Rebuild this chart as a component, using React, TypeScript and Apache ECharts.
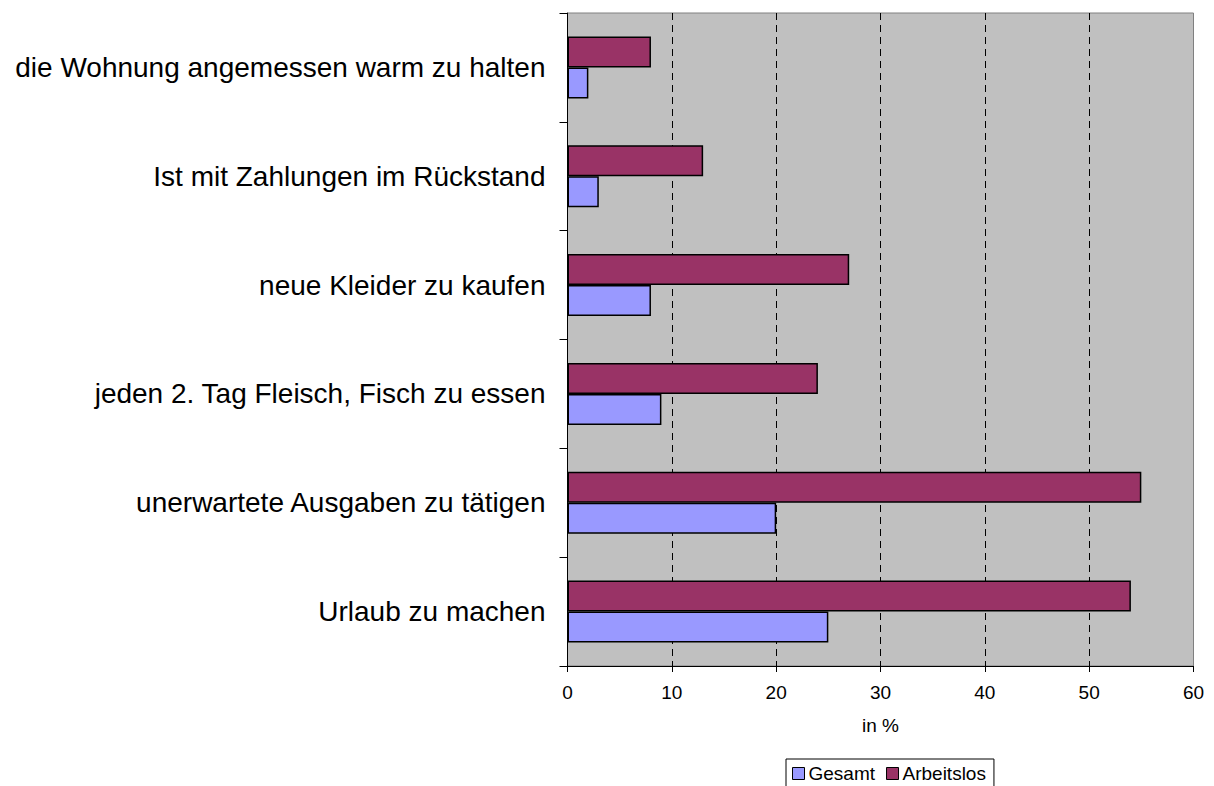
import React, { useEffect, useRef } from "react";
import * as echarts from "echarts";

const categories = [
  "Urlaub zu machen",
  "unerwartete Ausgaben zu tätigen",
  "jeden 2. Tag Fleisch, Fisch zu essen",
  "neue Kleider zu kaufen",
  "Ist mit Zahlungen im Rückstand",
  "die Wohnung angemessen warm zu halten",
];
const gesamt = [25, 20, 9, 8, 3, 2];
const arbeitslos = [54, 55, 24, 27, 13, 8];
const seriesNames = ["Gesamt", "Arbeitslos"];
const axisName = "in %";

const FONT = "'Liberation Sans', Arial, sans-serif";

export default function App() {
  const ref = useRef<HTMLDivElement>(null);
  useEffect(() => {
    const chart = echarts.init(ref.current!, undefined, { renderer: "svg" });
    chart.setOption({
      animation: false,
      textStyle: { fontFamily: FONT },
      grid: {
        left: 567.5,
        right: 20.5,
        top: 13,
        bottom: 120,
        show: true,
        backgroundColor: "#c0c0c0",
        borderColor: "#808080",
        borderWidth: 1,
      },
      legend: {
        left: 786,
        top: 759,
        orient: "horizontal",
        padding: [5, 8, 6, 6],
        itemGap: 11,
        itemWidth: 12,
        itemHeight: 12,
        borderColor: "#000",
        borderWidth: 1,
        icon: "rect",
        textStyle: { fontSize: 19, color: "#000", fontFamily: FONT, padding: [0, 0, 0, -1] },
        itemStyle: { borderColor: "#000", borderWidth: 1 },
        data: seriesNames,
      },
      xAxis: {
        type: "value",
        min: 0,
        max: 60,
        interval: 10,
        name: axisName,
        nameLocation: "middle",
        nameGap: 50,
        nameTextStyle: { fontSize: 19, color: "#000", fontFamily: FONT },
        axisLine: { show: true, lineStyle: { color: "#000", width: 1 } },
        axisTick: { show: true, length: 6, lineStyle: { color: "#000" } },
        axisLabel: { fontSize: 19, color: "#000", margin: 17, fontFamily: FONT },
        splitLine: {
          show: true,
          lineStyle: {
            color: ["transparent", "#000", "#000", "#000", "#000", "#000", "transparent"],
            type: [7, 5],
            width: 1,
          },
        },
      },
      yAxis: {
        type: "category",
        data: categories,
        axisLine: { show: true, lineStyle: { color: "#000", width: 1 } },
        axisTick: { show: true, length: 8, lineStyle: { color: "#000" } },
        axisLabel: { fontSize: 28, color: "#000", margin: 22, fontFamily: FONT },
        splitLine: { show: false },
      },
      series: [
        {
          name: seriesNames[1],
          type: "bar",
          data: arbeitslos,
          barGap: "0%",
          barCategoryGap: "43%",
          itemStyle: { color: "#993366", borderColor: "#000", borderWidth: 1.5 },
        },
        {
          name: seriesNames[0],
          type: "bar",
          data: gesamt,
          barGap: "0%",
          barCategoryGap: "43%",
          itemStyle: { color: "#9999ff", borderColor: "#000", borderWidth: 1.5 },
        },
      ],
    });
    return () => chart.dispose();
  }, []);
  return (
    <div
      ref={ref}
      style={{ position: "fixed", left: 0, top: 0, width: 1214, height: 786, background: "#fff" }}
    />
  );
}
